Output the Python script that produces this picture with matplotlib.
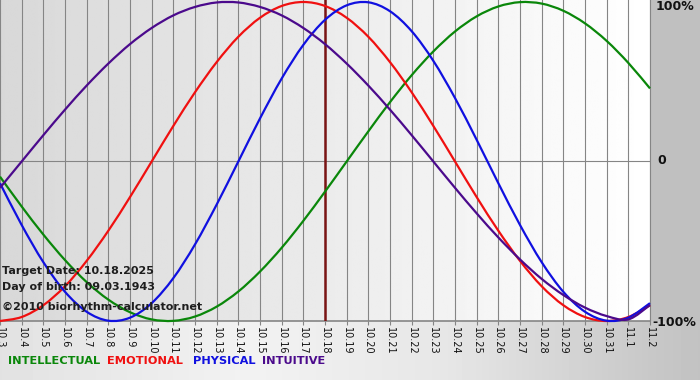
import numpy as np
import matplotlib
matplotlib.use('Agg')
import matplotlib.pyplot as plt
from matplotlib.path import Path
from matplotlib.patches import PathPatch

days = ['10.3', '10.4', '10.5', '10.6', '10.7', '10.8', '10.9', '10.10', '10.11',
        '10.12', '10.13', '10.14', '10.15', '10.16', '10.17', '10.18', '10.19',
        '10.20', '10.21', '10.22', '10.23', '10.24', '10.25', '10.26', '10.27',
        '10.28', '10.29', '10.30', '10.31', '11.1', '11.2']

physical = [-0.136, -0.398, -0.631, -0.817, -0.942, -0.998, -0.979, -0.888, -0.731, -0.520,
            -0.270, 0.000, 0.270, 0.520, 0.731, 0.888, 0.979, 0.998, 0.942, 0.817,
            0.631, 0.398, 0.136, -0.136, -0.398, -0.631, -0.817, -0.942, -0.998, -0.979,
            -0.888]

emotional = [-1.000, -0.975, -0.901, -0.782, -0.623, -0.434, -0.223, 0.000, 0.223, 0.434,
             0.623, 0.782, 0.901, 0.975, 1.000, 0.975, 0.901, 0.782, 0.623, 0.434,
             0.223, 0.000, -0.223, -0.434, -0.623, -0.782, -0.901, -0.975, -1.000, -0.975,
             -0.901]

intellectual = [-0.095, -0.282, -0.458, -0.618, -0.756, -0.866, -0.945, -0.990, -0.999, -0.972,
                -0.910, -0.815, -0.690, -0.541, -0.372, -0.189, 0.000, 0.189, 0.372, 0.541,
                0.690, 0.815, 0.910, 0.972, 0.999, 0.990, 0.945, 0.866, 0.756, 0.618,
                0.458]

intuitive = [-0.165, 0.000, 0.165, 0.325, 0.476, 0.614, 0.736, 0.837, 0.916, 0.969,
             0.997, 0.997, 0.969, 0.916, 0.837, 0.736, 0.614, 0.476, 0.325, 0.165,
             0.000, -0.165, -0.325, -0.476, -0.614, -0.736, -0.837, -0.916, -0.969, -0.990,
             -0.900]

target_idx = 15

c_int = '#0a870a'
c_emo = '#f01010'
c_phy = '#1010e0'
c_itu = '#4b0a8c'


def smooth(xs, ys):
    # catmull-rom through the daily points, drawn as bezier segments
    pts = np.column_stack([xs, ys]).astype(float)
    n = len(pts)
    verts = [pts[0]]
    codes = [Path.MOVETO]
    for i in range(n - 1):
        p0 = pts[i - 1] if i > 0 else pts[i]
        p1 = pts[i]
        p2 = pts[i + 1]
        p3 = pts[i + 2] if i + 2 < n else pts[i + 1]
        verts += [p1 + (p2 - p0) / 6, p2 - (p3 - p1) / 6, p2]
        codes += [Path.CURVE4] * 3
    return Path(verts, codes)


W, H = 700, 380
fig = plt.figure(figsize=(7, 3.8), dpi=100)

# figure background
bg = fig.add_axes([0, 0, 1, 1], zorder=-10)
gx = np.linspace(0, 700, 700)
gv = np.interp(gx, [0, 250, 450, 650, 700], [226, 242, 230, 200, 194]) / 255
bg.imshow(np.tile(gv, (2, 1)), cmap='gray', vmin=0, vmax=1, aspect='auto',
          extent=[0, 1, 0, 1])
bg.add_patch(plt.Rectangle((651 / W, (H - 321) / H), 49 / W, 321 / H,
                           color='#c0c0c0', lw=0))
bg.set_xlim(0, 1)
bg.set_ylim(0, 1)
bg.axis('off')

ax = fig.add_axes([0, (H - 321) / H, 650 / W, 321 / H])
ax.set_xlim(0, 30)
ax.set_ylim(-1.0, 1.0125)
gv2 = np.linspace(216, 255, 300) / 255
ax.imshow(np.tile(gv2, (2, 1)), cmap='gray', vmin=0, vmax=1, aspect='auto',
          extent=[0, 30, -1.0, 1.0125], zorder=0)

x = np.arange(len(days))
for xi in x:
    ax.axvline(xi, color='#858585', lw=0.8, zorder=1)
ax.axhline(0, color='#858585', lw=0.8, zorder=1)
ax.axhline(-1.0, color='#858585', lw=1.2, zorder=1, clip_on=False)
ax.axvline(target_idx, color='#7a1414', lw=1.8, zorder=2)

for vals, col in [(intellectual, c_int), (emotional, c_emo),
                  (physical, c_phy), (intuitive, c_itu)]:
    ax.add_patch(PathPatch(smooth(x, vals), fill=False, edgecolor=col,
                           lw=1.6, zorder=3, clip_on=False))

for s in ax.spines.values():
    s.set_visible(False)
ax.spines['right'].set_visible(True)
ax.spines['right'].set_color('#858585')
ax.set_yticks([])
ax.set_xticks(x)
ax.set_xticklabels(days, rotation=270, fontsize=7, family='DejaVu Sans',
                   color='#111111')
ax.tick_params(axis='x', length=3, color='#858585', pad=1)

info = ['Target Date: 10.18.2025', 'Day of birth: 09.03.1943',
        '\u00a92010 biorhythm-calculator.net']
for txt, yy in zip(info, [271, 287, 307]):
    fig.text(2 / W, (H - yy) / H, txt, fontsize=8, fontweight='bold',
             color='#1e1e1e', va='center', ha='left', zorder=20)

for txt, xx, yy in [('100%', 656, 7), ('0', 657, 161), ('-100%', 652, 322)]:
    fig.text(xx / W, (H - yy) / H, txt, fontsize=9, fontweight='bold',
             color='#111111', va='center', ha='left')

legend = [('INTELLECTUAL', c_int, 8), ('EMOTIONAL', c_emo, 107),
          ('PHYSICAL', c_phy, 193), ('INTUITIVE', c_itu, 262)]
for txt, col, xx in legend:
    fig.text(xx / W, (H - 361) / H, txt, fontsize=8.2, fontweight='bold',
             color=col, va='center', ha='left')

fig.savefig('out.png', dpi=100)
